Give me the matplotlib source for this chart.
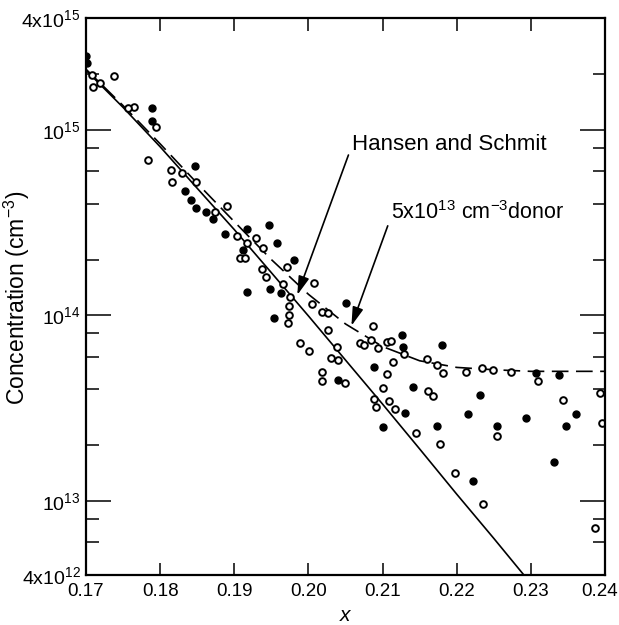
import numpy as np
import matplotlib
matplotlib.use('Agg')
import matplotlib.pyplot as plt
import matplotlib.transforms as mtransforms
from matplotlib.ticker import FixedLocator, NullFormatter

plt.rcParams['font.family'] = ['Liberation Sans', 'DejaVu Sans']
plt.rcParams['mathtext.fontset'] = 'custom'
plt.rcParams['mathtext.rm'] = 'Liberation Sans'
plt.rcParams['mathtext.it'] = 'Liberation Sans:italic'

# Hansen and Schmit curve
hs_x = [0.170, 0.175, 0.180, 0.185, 0.190, 0.195, 0.200, 0.205, 0.210,
        0.215, 0.220, 0.225, 0.230]
hs_n = [2.09e15, 1.32e15, 8.10e14, 4.84e14, 2.90e14, 1.70e14, 9.94e13,
        5.75e13, 3.33e13, 1.91e13, 1.09e13, 6.3e12, 3.6e12]

# 5x10^13 donor curve
don_x = [0.170, 0.175, 0.180, 0.185, 0.190, 0.195, 0.200, 0.205, 0.210,
         0.215, 0.220, 0.225, 0.230, 0.235, 0.240]
don_n = [2.12e15, 1.35e15, 8.40e14, 5.15e14, 3.20e14, 2.00e14, 1.30e14,
         9.0e13, 6.8e13, 5.7e13, 5.25e13, 5.1e13, 5.0e13, 5.0e13, 5.0e13]

# measured points, filled symbols
filled_x = [0.1700, 0.1701, 0.1789, 0.1789, 0.1847, 0.1834, 0.1842, 0.1849,
            0.1862, 0.1871, 0.1947, 0.1887, 0.1917, 0.1957, 0.1912, 0.1980,
            0.1948, 0.1963, 0.1917, 0.2050, 0.1954, 0.2040, 0.2126, 0.2128,
            0.2180, 0.2088, 0.2141, 0.2232, 0.2130, 0.2215, 0.2100, 0.2174,
            0.2255, 0.2222, 0.2307, 0.2338, 0.2293, 0.2361, 0.2347, 0.2331]
filled_n = [2.50e15, 2.28e15, 1.31e15, 1.11e15, 6.41e14, 4.70e14, 4.19e14,
            3.78e14, 3.62e14, 3.31e14, 3.07e14, 2.75e14, 2.91e14, 2.47e14,
            2.25e14, 1.99e14, 1.38e14, 1.32e14, 1.33e14, 1.16e14, 9.66e13,
            4.50e13, 7.85e13, 6.74e13, 6.93e13, 5.26e13, 4.14e13, 3.73e13,
            2.97e13, 2.95e13, 2.50e13, 2.54e13, 2.54e13, 1.28e13, 4.88e13,
            4.79e13, 2.79e13, 2.95e13, 2.55e13, 1.62e13]

# measured points, open symbols
open_x = [0.1710, 0.1738, 0.1708, 0.1719, 0.1765, 0.1757, 0.1795, 0.1784,
          0.1814, 0.1816, 0.1830, 0.1849, 0.1874, 0.1890, 0.1903, 0.1929,
          0.1917, 0.1939, 0.1908, 0.1914, 0.1971, 0.1937, 0.1943, 0.2007,
          0.1966, 0.1975, 0.1974, 0.2005, 0.2018, 0.2027, 0.1974, 0.1972,
          0.2027, 0.2038, 0.1988, 0.2001, 0.2031, 0.2018, 0.2040, 0.2018,
          0.2049, 0.2087, 0.2070, 0.2075, 0.2085, 0.2094, 0.2106, 0.2111,
          0.2129, 0.2160, 0.2174, 0.2181, 0.2212, 0.2234, 0.2249, 0.2114,
          0.2106, 0.2100, 0.2161, 0.2168, 0.2088, 0.2091, 0.2109, 0.2117,
          0.2145, 0.2255, 0.2177, 0.2198, 0.2236, 0.2273, 0.2309, 0.2393,
          0.2343, 0.2396, 0.2387]
open_n = [1.71e15, 1.95e15, 1.97e15, 1.78e15, 1.33e15, 1.31e15, 1.03e15,
          6.88e14, 6.08e14, 5.26e14, 5.83e14, 5.26e14, 3.62e14, 3.89e14,
          2.68e14, 2.61e14, 2.47e14, 2.30e14, 2.05e14, 2.05e14, 1.82e14,
          1.78e14, 1.61e14, 1.49e14, 1.48e14, 1.26e14, 1.12e14, 1.15e14,
          1.05e14, 1.03e14, 1.01e14, 9.08e13, 8.36e13, 6.79e13, 7.14e13,
          6.47e13, 5.93e13, 4.98e13, 5.75e13, 4.46e13, 4.31e13, 8.77e13,
          7.14e13, 6.93e13, 7.38e13, 6.66e13, 7.22e13, 7.30e13, 6.21e13,
          5.80e13, 5.41e13, 4.88e13, 4.94e13, 5.19e13, 5.08e13, 5.64e13,
          4.84e13, 4.06e13, 3.94e13, 3.69e13, 3.55e13, 3.23e13, 3.47e13,
          3.13e13, 2.34e13, 2.24e13, 2.02e13, 1.41e13, 9.6e12, 4.98e13,
          4.41e13, 3.81e13, 3.51e13, 2.62e13, 7.2e12]

x_ticks = [0.17, 0.18, 0.19, 0.20, 0.21, 0.22, 0.23, 0.24]
x_labels = ['0.17', '0.18', '0.19', '0.20', '0.21', '0.22', '0.23', '0.24']
y_ticks = [4e12, 1e13, 1e14, 1e15, 4e15]
y_labels = ['4x10$^{12}$', '10$^{13}$', '10$^{14}$', '10$^{15}$', '4x10$^{15}$']

fig = plt.figure(figsize=(6.19, 6.25), dpi=100)
ax = fig.add_axes([86/619, 1 - 575/625, (605 - 86)/619, (575 - 18)/625])

ax.plot(hs_x, hs_n, color='k', lw=1.2)
ax.plot(don_x, don_n, color='k', lw=1.2, linestyle=(0, (10, 4.5)))
ax.plot(filled_x, filled_n, 'o', ms=5, color='k', mec='k')
ax.plot(open_x, open_n, 'o', ms=4.8, mfc='white', mec='k', mew=1.4)

ax.set_yscale('log')
ax.set_xlim(0.17, 0.24)
ax.set_ylim(4e12, 4e15)

ax.set_xticks(x_ticks)
ax.set_xticklabels(x_labels)
ax.set_yticks(y_ticks)
ax.set_yticklabels(y_labels)
minors = [m * 10.0**e for e in range(12, 16) for m in (2, 4, 6, 8)]
minors = [v for v in minors if 4e12 < v < 4e15]
ax.yaxis.set_minor_locator(FixedLocator(minors))
ax.yaxis.set_minor_formatter(NullFormatter())
ax.xaxis.set_minor_locator(FixedLocator([]))

ax.tick_params(axis='both', which='both', direction='in', top=True, right=True,
               width=1.1, colors='k')
ax.tick_params(axis='x', which='major', length=9, pad=6, labelsize=13.5)
ax.tick_params(axis='y', which='major', length=18, pad=4, labelsize=14)
ax.tick_params(axis='y', which='minor', length=9)
for sp in ax.spines.values():
    sp.set_linewidth(1.6)

# last x label sits at the figure edge, nudge it in a little
last = ax.get_xticklabels()[-1]
last.set_transform(last.get_transform() +
                   mtransforms.ScaledTranslation(-5/100, 0, fig.dpi_scale_trans))

ax.set_ylabel('Concentration (cm$^{-3}$)', fontsize=16.5)
ax.yaxis.set_label_coords(-0.104, 0.497)
ax.set_xlabel('$x$', fontsize=15, labelpad=4)

arrow = dict(arrowstyle='-|>,head_length=0.75,head_width=0.22', color='k',
             lw=1.2, shrinkA=2, shrinkB=0, mutation_scale=15)
ax.annotate('Hansen and Schmit', xy=(0.1985, 1.29e14), xytext=(0.2059, 8.3e14),
            fontsize=16, ha='left', va='center',
            arrowprops=dict(arrow, relpos=(0, 0.5)))
ax.annotate('5x10$^{13}$ cm$^{-3}$donor', xy=(0.2058, 8.8e13),
            xytext=(0.2112, 3.6e14), fontsize=15.5, ha='left', va='center',
            arrowprops=dict(arrow, relpos=(0, 0.35)))

fig.savefig('out.png', dpi=100)
